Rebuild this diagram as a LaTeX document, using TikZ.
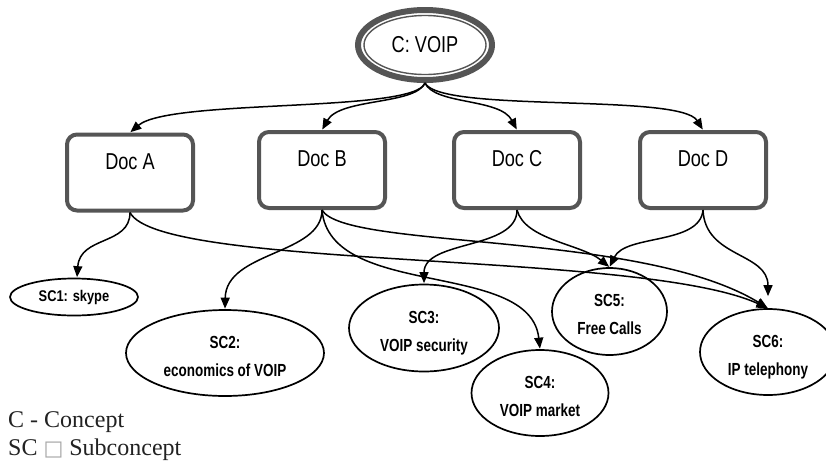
\documentclass[tikz,border=0pt]{standalone}
\usepackage{fontspec}
\setmainfont{Liberation Serif}
\newfontfamily\narrowsans[FakeStretch=0.79]{Liberation Sans}
\newfontfamily\scsans[FakeStretch=0.77]{Liberation Sans}
\newfontfamily\scsansone[FakeStretch=0.83]{Liberation Sans}
\newfontfamily\symfont{DejaVu Sans}
\usetikzlibrary{shapes.geometric,arrows.meta}
\definecolor{boxgray}{HTML}{555555}
\definecolor{legendgray}{HTML}{222222}
\newcommand{\sclines}[2]{\rule{0pt}{22.5pt}#1\\#2\rule[-4pt]{0pt}{4pt}}
\begin{document}
\begin{tikzpicture}[x=1pt,y=-1pt,
  docbox/.style={draw=boxgray, line width=4pt, rounded corners=10pt,
    minimum width=126pt, minimum height=76pt, inner sep=0pt},
  doctext/.style={font=\narrowsans\fontsize{23}{26}\selectfont, inner sep=0pt},
  subc/.style={ellipse, draw=black, line width=1.7pt, inner sep=0pt, align=center,
    font=\scsans\bfseries\fontsize{17.5}{28}\selectfont},
  conn/.style={line width=1.5pt, -{Triangle[length=11pt,width=9pt]}, shorten >=0.5pt},
  legend/.style={anchor=base west, inner sep=0pt, text=legendgray,
    font=\fontsize{24}{28}\selectfont}
]
\useasboundingbox (0,0) rectangle (826,461);
\fill[white] (0,0) rectangle (826,461);

% concept
\node[ellipse, draw=boxgray, line width=6pt, minimum width=134pt, minimum height=70pt,
  inner sep=0pt, font=\narrowsans\fontsize{23}{26}\selectfont] (c) at (425,45) {C: VOIP};
\node[ellipse, draw=boxgray, line width=1.4pt, minimum width=122pt, minimum height=59pt,
  inner sep=0pt] (cin) at (c.center) {};

% documents
\node[docbox] (docA) at (130,172.5) {};
\node[docbox] (docB) at (322,170) {};
\node[docbox] (docC) at (517,170) {};
\node[docbox] (docD) at (703,170) {};
\node[doctext] (docAt) at ([yshift=10.5pt]docA.center) {Doc A};
\node[doctext] (docBt) at ([yshift=11pt]docB.center) {Doc B};
\node[doctext] (docCt) at ([yshift=11pt]docC.center) {Doc C};
\node[doctext] (docDt) at ([yshift=11pt]docD.center) {Doc D};

% subconcepts
\node[subc, minimum width=128pt, minimum height=37pt,
  font=\scsansone\bfseries\fontsize{15.5}{20}\selectfont] (sc1) at (74,297) {SC1: skype};
\node[subc, minimum width=198pt, minimum height=86pt] (sc2) at (225,353) {\sclines{SC2:}{economics of VOIP}};
\node[subc, minimum width=150pt, minimum height=87pt] (sc3) at (424,328) {\sclines{SC3:}{VOIP security}};
\node[subc, minimum width=137pt, minimum height=86pt] (sc4) at (540,393) {\sclines{SC4:}{VOIP market}};
\node[subc, minimum width=115pt, minimum height=87pt] (sc5) at (609.5,311.5) {\sclines{SC5:}{Free Calls}};
\node[subc, minimum width=136pt, minimum height=86pt] (sc6) at (768,352) {\sclines{SC6:}{IP telephony}};

% concept -> documents
\draw[conn] (c.south) .. controls +(-10,30) and +(40,-34) .. (docA.north);
\draw[conn] (c.south) .. controls +(-10,22) and +(18,-32) .. (docB.north);
\draw[conn] (c.south) .. controls +(10,22) and +(-17,-32) .. (docC.north);
\draw[conn] (c.south) .. controls +(15,30) and +(-23,-37) .. (docD.north);

% documents -> subconcepts
\draw[conn] (docA.south) .. controls +(0,33) and +(3,-42) .. ([xshift=3pt]sc1.north);
\draw[conn] (docA.south) .. controls +(30,58) and +(-128,-58) .. (sc6.north);
\draw[conn] (docB.south) .. controls +(0,45) and +(1,-58) .. (sc2.north);
\draw[conn] (docB.south) .. controls +(8,90) and +(-10,-90) .. (sc4.north);
\draw[conn] (docB.south) .. controls +(23,40) and +(-128,-78) .. (sc6.north);
\draw[conn] (docC.south) .. controls +(0,40) and +(0,-44) .. (sc3.north);
\draw[conn] (docC.south) .. controls +(8,30) and +(-28,-23) .. (sc5.north);
\draw[conn] (docD.south) .. controls +(-3,35) and +(16,-33) .. (sc5.north);
\draw[conn, shorten >=12pt] (docD.south) .. controls +(2,48) and +(0,-56) .. (sc6.north);

% legend
\node[legend] (leg1) at (8,427) {C - Concept};
\node[legend] (leg2) at (8,455.5) {SC {\symfont\color{gray!70}\fontsize{21}{21}\selectfont □} Subconcept};
\end{tikzpicture}
\end{document}
